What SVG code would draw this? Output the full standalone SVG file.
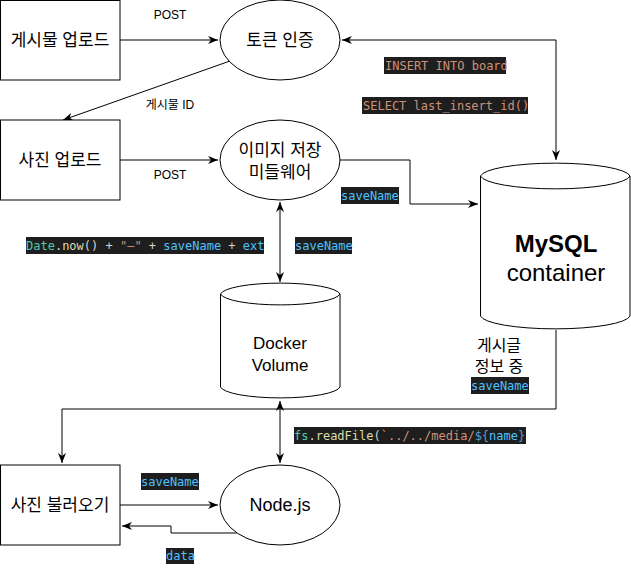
<svg xmlns="http://www.w3.org/2000/svg" width="631" height="571" viewBox="0 0 631 571">
<defs>
<marker id="arr" viewBox="0 0 10 8" refX="10" refY="4" markerWidth="10" markerHeight="8" markerUnits="userSpaceOnUse" orient="auto-start-reverse">
<path d="M0,0 L10,4 L0,8 L3,4 Z" fill="#000"/>
</marker>
<style>
.box{fill:#fff;stroke:#000;stroke-width:1}
.lbl{font-family:"Liberation Sans","Noto Sans CJK KR",sans-serif;font-size:17px;fill:#000;text-anchor:middle}
.en{font-family:"Liberation Sans","Noto Sans CJK KR",sans-serif;font-size:18px;fill:#000;text-anchor:middle}
.sm{font-family:"Liberation Sans","Noto Sans CJK KR",sans-serif;font-size:12px;fill:#000;text-anchor:middle}
.edge{fill:none;stroke:#000;stroke-width:1}
.cbg{fill:#1e1e1e}
.code{font-family:"DejaVu Sans Mono","Liberation Mono",monospace;font-size:12px;white-space:pre}
.s{fill:#ce9178}.t{fill:#4ec9b0}.y{fill:#dcdcaa}.w{fill:#d4d4d4}.b{fill:#4fc1ff}.k{fill:#569cd6}
</style>
</defs>

<g id="connectors">
<path class="edge" d="M120,40 H218" marker-end="url(#arr)"/>
<path class="edge" d="M230,61 L63,120" marker-end="url(#arr)"/>
<path class="edge" d="M120,160 H218" marker-end="url(#arr)"/>
<path class="edge" d="M556,160 V40 H342" marker-start="url(#arr)" marker-end="url(#arr)"/>
<path class="edge" d="M340,160 H410 V204 H478" marker-end="url(#arr)"/>
<path class="edge" d="M280,202 V282" marker-start="url(#arr)" marker-end="url(#arr)"/>
<path class="edge" d="M556,330 V409 H62 V463" marker-end="url(#arr)"/>
<path class="edge" d="M280,401 V463" marker-start="url(#arr)" marker-end="url(#arr)"/>
<path class="edge" d="M120,505 H218" marker-end="url(#arr)"/>
<path class="edge" d="M237,533 H171 V526 H122" marker-end="url(#arr)"/>
</g>

<g id="edge-labels">
<text class="sm" x="170" y="19">POST</text>
<text class="sm" x="170" y="109">게시물 ID</text>
<text class="sm" x="170" y="179">POST</text>
<rect class="cbg" x="384" y="57" width="122" height="17"/>
<text class="code s" x="385" y="70">INSERT INTO board</text>
<rect class="cbg" x="362" y="97" width="166" height="17"/>
<text class="code s" x="363" y="110">SELECT last_insert_id()</text>
<rect class="cbg" x="341" y="187" width="58" height="17"/>
<text class="code b" x="341" y="200">saveName</text>
<rect class="cbg" x="26" y="237" width="238" height="17"/>
<text class="code" x="26" y="250"><tspan class="t">Date</tspan><tspan class="w">.</tspan><tspan class="y">now</tspan><tspan class="w">() + </tspan><tspan class="s">"—"</tspan><tspan class="w"> + </tspan><tspan class="b">saveName</tspan><tspan class="w"> + </tspan><tspan class="b">ext</tspan></text>
<rect class="cbg" x="295" y="237" width="57" height="17"/>
<text class="code b" x="295" y="250">saveName</text>
<text class="lbl" x="499" y="351" style="font-size:16px">게시글</text>
<text class="lbl" x="499" y="372" style="font-size:16px">정보 중</text>
<rect class="cbg" x="471" y="377" width="58" height="17"/>
<text class="code b" x="471" y="390">saveName</text>
<rect class="cbg" x="294" y="427" width="232" height="17"/>
<text class="code" x="294" y="440"><tspan class="t">fs</tspan><tspan class="w">.</tspan><tspan class="y">readFile</tspan><tspan class="w">(</tspan><tspan class="s">`../../media/</tspan><tspan class="k">${</tspan><tspan class="b">name</tspan><tspan class="k">}</tspan></text>
<rect class="cbg" x="141" y="473" width="58" height="17"/>
<text class="code b" x="141" y="486">saveName</text>
<rect class="cbg" x="166" y="548" width="28" height="16"/>
<text class="code b" x="166" y="560">data</text>
</g>

<g id="post-upload">
<rect class="box" x="0.5" y="0.5" width="119.5" height="79.5"/>
<text class="lbl" x="60" y="46">게시물 업로드</text>
</g>
<g id="token-auth">
<ellipse class="box" cx="280" cy="40" rx="60" ry="40"/>
<text class="lbl" x="280" y="46">토큰 인증</text>
</g>
<g id="photo-upload">
<rect class="box" x="0.5" y="120" width="119.5" height="80"/>
<text class="lbl" x="60" y="166">사진 업로드</text>
</g>
<g id="image-middleware">
<ellipse class="box" cx="280" cy="160" rx="60" ry="40"/>
<text class="lbl" x="280" y="156">이미지 저장</text>
<text class="lbl" x="280" y="178">미들웨어</text>
</g>
<g id="mysql">
<path class="box" d="M480.5,176 A75,14 0 0 1 630,176 V316 A75,14 0 0 1 480.5,316 Z"/>
<path class="edge" d="M480.5,176 A75,14 0 0 0 630,176"/>
<text x="556" y="252" style="font-family:'Liberation Sans',sans-serif;font-size:24px;font-weight:bold;text-anchor:middle">MySQL</text>
<text x="556" y="281" style="font-family:'Liberation Sans',sans-serif;font-size:24px;text-anchor:middle">container</text>
</g>
<g id="docker-volume">
<path class="box" d="M220.5,294 A60,12 0 0 1 340,294 V387 A60,12 0 0 1 220.5,387 Z"/>
<path class="edge" d="M220.5,294 A60,12 0 0 0 340,294"/>
<text class="lbl" x="280" y="349">Docker</text>
<text class="lbl" x="280" y="371">Volume</text>
</g>
<g id="photo-load">
<rect class="box" x="0.5" y="465" width="119.5" height="80"/>
<text class="lbl" x="60" y="511">사진 불러오기</text>
</g>
<g id="nodejs">
<ellipse class="box" cx="280" cy="505" rx="60" ry="40"/>
<text class="en" x="280" y="511">Node.js</text>
</g>
</svg>
